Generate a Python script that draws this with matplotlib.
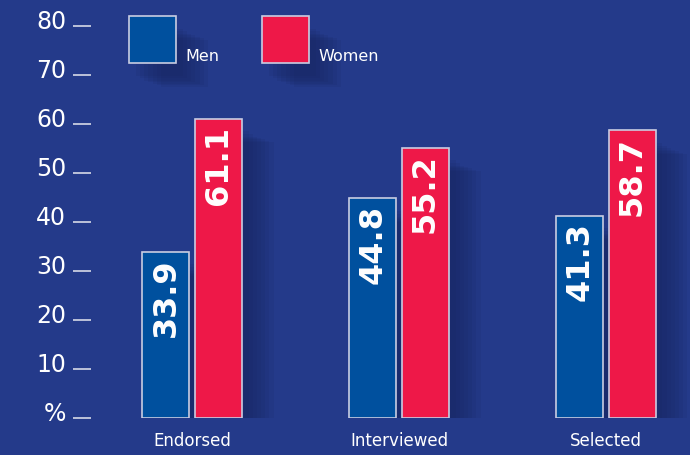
import numpy as np
import matplotlib.pyplot as plt
import matplotlib.patheffects as pe
from matplotlib.patches import Rectangle
from matplotlib.transforms import ScaledTranslation

# Данные
categories = ['Endorsed', 'Interviewed', 'Selected']
men = [33.9, 44.8, 41.3]
women = [61.1, 55.2, 58.7]
yticks = [0, 10, 20, 30, 40, 50, 60, 70, 80]
ytick_labels = ['%', '10', '20', '30', '40', '50', '60', '70', '80']
legend_labels = ['Men', 'Women']

# Цвета
bg = '#243a8a'
c_men = '#00509e'
c_women = '#ee1848'
edge = '#c9cde2'
shadow = '#16245e'

plt.rcParams['font.family'] = ['DejaVu Sans']

fig = plt.figure(figsize=(6.9, 4.55), dpi=100)
fig.patch.set_facecolor(bg)
ax = fig.add_axes([91 / 690, 37 / 455, 599 / 690, 392 / 455])
ax.set_facecolor(bg)

x = np.arange(len(categories))
w = 0.227
off = 0.126

# мягкая тень
shadow_fx = [pe.SimplePatchShadow(offset=(dx, dy), shadow_rgbFace=shadow, alpha=0.12)
             for dx, dy in [(5, -9), (8, -11), (11, -13), (14, -14), (17, -15), (20, -16), (23, -17)]] + [pe.Normal()]

b1 = ax.bar(x - off, men, w, color=c_men, edgecolor=edge, linewidth=1.2, path_effects=shadow_fx, zorder=3)
b2 = ax.bar(x + off, women, w, color=c_women, edgecolor=edge, linewidth=1.2, path_effects=shadow_fx, zorder=3)

for bars, vals in [(b1, men), (b2, women)]:
    for rect, v in zip(bars, vals):
        ax.annotate(f'{v:.1f}', xy=(rect.get_x() + rect.get_width() / 2, v),
                    xytext=(0, -5), textcoords='offset points',
                    rotation=90, ha='center', va='top', color='white',
                    fontsize=23, fontweight='bold', zorder=4)

ax.set_xlim(-0.488, 2.406)
ax.set_ylim(0, 80)
for s in ax.spines.values():
    s.set_visible(False)

ax.set_yticks(yticks)
ax.set_yticklabels(ytick_labels)
ax.tick_params(axis='y', length=13, width=1.3, color='#c8cde0', pad=5,
               labelcolor='white', labelsize=17)
for lbl in ax.get_yticklabels():
    lbl.set_transform(lbl.get_transform() + ScaledTranslation(0, 5 / 72, fig.dpi_scale_trans))

ax.set_xticks(x)
ax.set_xticklabels(categories)
ax.tick_params(axis='x', length=0, pad=10, labelcolor='white', labelsize=12)

# легенда: квадраты с подписью у нижнего края
leg_colors = [c_men, c_women]
leg_x = [129, 262]
for lx, col, lab in zip(leg_x, leg_colors, legend_labels):
    fig.add_artist(Rectangle((lx / 690, 1 - 63 / 455), 47 / 690, 47 / 455,
                             transform=fig.transFigure, facecolor=col, edgecolor=edge,
                             linewidth=1.2, path_effects=shadow_fx))
    fig.text((lx + 56) / 690, 1 - 61 / 455, lab, color='white', fontsize=11.5,
             ha='left', va='baseline')

plt.savefig('out.png', dpi=100, facecolor=bg)
